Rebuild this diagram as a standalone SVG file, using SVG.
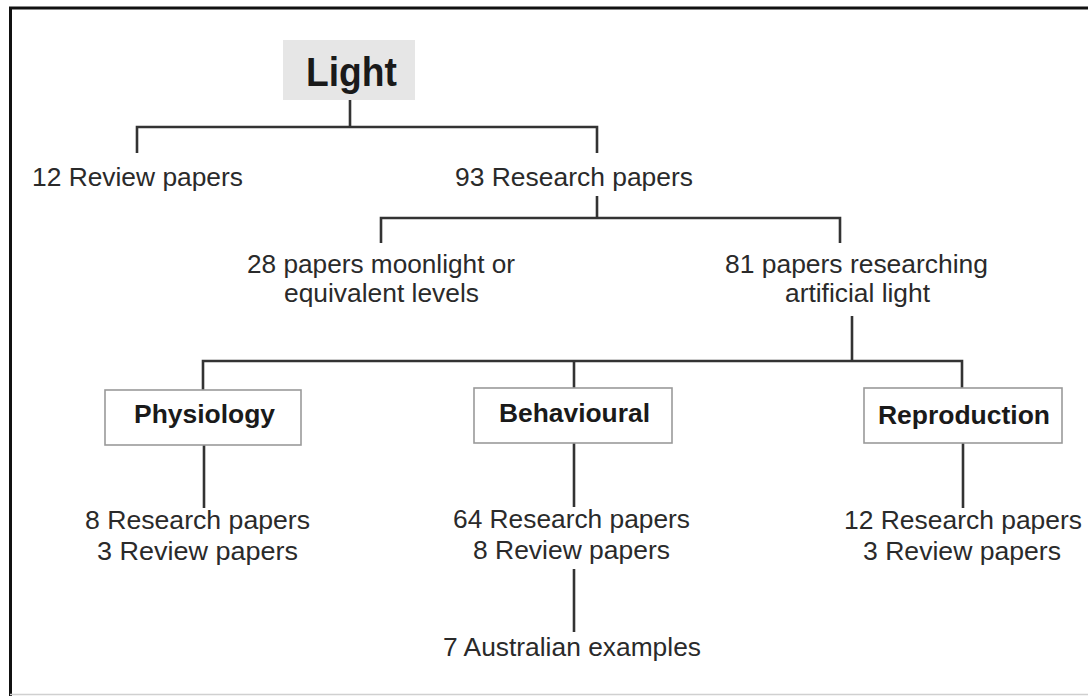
<svg xmlns="http://www.w3.org/2000/svg" width="1088" height="696" viewBox="0 0 1088 696">
<style>
.t{font-family:"Liberation Sans",Arial,sans-serif;font-size:25px;fill:#2a2a2a}
.b{font-family:"Liberation Sans",Arial,sans-serif;font-size:25px;font-weight:bold;fill:#1a1a1a}
.box{fill:#ffffff;stroke:#9a9a9a;stroke-width:1.6}
.c{fill:none;stroke:#333333;stroke-width:2.6}
</style>
<rect x="0" y="0" width="1088" height="696" fill="#ffffff"/>
<path d="M10.5 696 V8 H1088" fill="none" stroke="#111111" stroke-width="3"/>
<line x1="10" y1="694.5" x2="1088" y2="694.5" stroke="#d0d0d0" stroke-width="1.5"/>
<g id="connectors">
<path class="c" d="M350 100 V127"/>
<path class="c" d="M137 153 V127 H597 V153"/>
<path class="c" d="M597 196 V218"/>
<path class="c" d="M381 243 V218 H840 V243"/>
<path class="c" d="M852 316 V361"/>
<path class="c" d="M203 390 V361 H962 V388"/>
<path class="c" d="M574 361 V388"/>
<path class="c" d="M204 445 V508"/>
<path class="c" d="M574 443 V507"/>
<path class="c" d="M963 443 V508"/>
<path class="c" d="M574 569 V632"/>
</g>
<g id="light">
<rect x="283" y="40" width="132" height="60" fill="#e6e6e6"/>
<text class="b" x="306" y="86" style="font-size:40px" textLength="91" lengthAdjust="spacingAndGlyphs">Light</text>
</g>
<g id="review12">
<text class="t" x="32" y="186" textLength="211" lengthAdjust="spacingAndGlyphs">12 Review papers</text>
</g>
<g id="research93">
<text class="t" x="455" y="186" textLength="238" lengthAdjust="spacingAndGlyphs">93 Research papers</text>
</g>
<g id="moonlight">
<text class="t" x="247" y="273" textLength="268" lengthAdjust="spacingAndGlyphs">28 papers moonlight or</text>
<text class="t" x="284" y="302" textLength="195" lengthAdjust="spacingAndGlyphs">equivalent levels</text>
</g>
<g id="artificial">
<text class="t" x="725" y="273" textLength="263" lengthAdjust="spacingAndGlyphs">81 papers researching</text>
<text class="t" x="785" y="302" textLength="145" lengthAdjust="spacingAndGlyphs">artificial light</text>
</g>
<g id="physiology">
<rect class="box" x="105" y="390" width="196" height="55"/>
<text class="b" x="134" y="423" textLength="141" lengthAdjust="spacingAndGlyphs">Physiology</text>
</g>
<g id="behavioural">
<rect class="box" x="474" y="388" width="198" height="55"/>
<text class="b" x="499" y="422" textLength="151" lengthAdjust="spacingAndGlyphs">Behavioural</text>
</g>
<g id="reproduction">
<rect class="box" x="864" y="388" width="198" height="55"/>
<text class="b" x="878" y="424" textLength="172" lengthAdjust="spacingAndGlyphs">Reproduction</text>
</g>
<g id="phys-counts">
<text class="t" x="85" y="529" textLength="225" lengthAdjust="spacingAndGlyphs">8 Research papers</text>
<text class="t" x="97" y="560" textLength="201" lengthAdjust="spacingAndGlyphs">3 Review papers</text>
</g>
<g id="beh-counts">
<text class="t" x="453" y="528" textLength="237" lengthAdjust="spacingAndGlyphs">64 Research papers</text>
<text class="t" x="473" y="559" textLength="197" lengthAdjust="spacingAndGlyphs">8 Review papers</text>
</g>
<g id="australian">
<text class="t" x="443" y="656" textLength="258" lengthAdjust="spacingAndGlyphs">7 Australian examples</text>
</g>
<g id="repro-counts">
<text class="t" x="844" y="529" textLength="238" lengthAdjust="spacingAndGlyphs">12 Research papers</text>
<text class="t" x="863" y="560" textLength="198" lengthAdjust="spacingAndGlyphs">3 Review papers</text>
</g>
</svg>
